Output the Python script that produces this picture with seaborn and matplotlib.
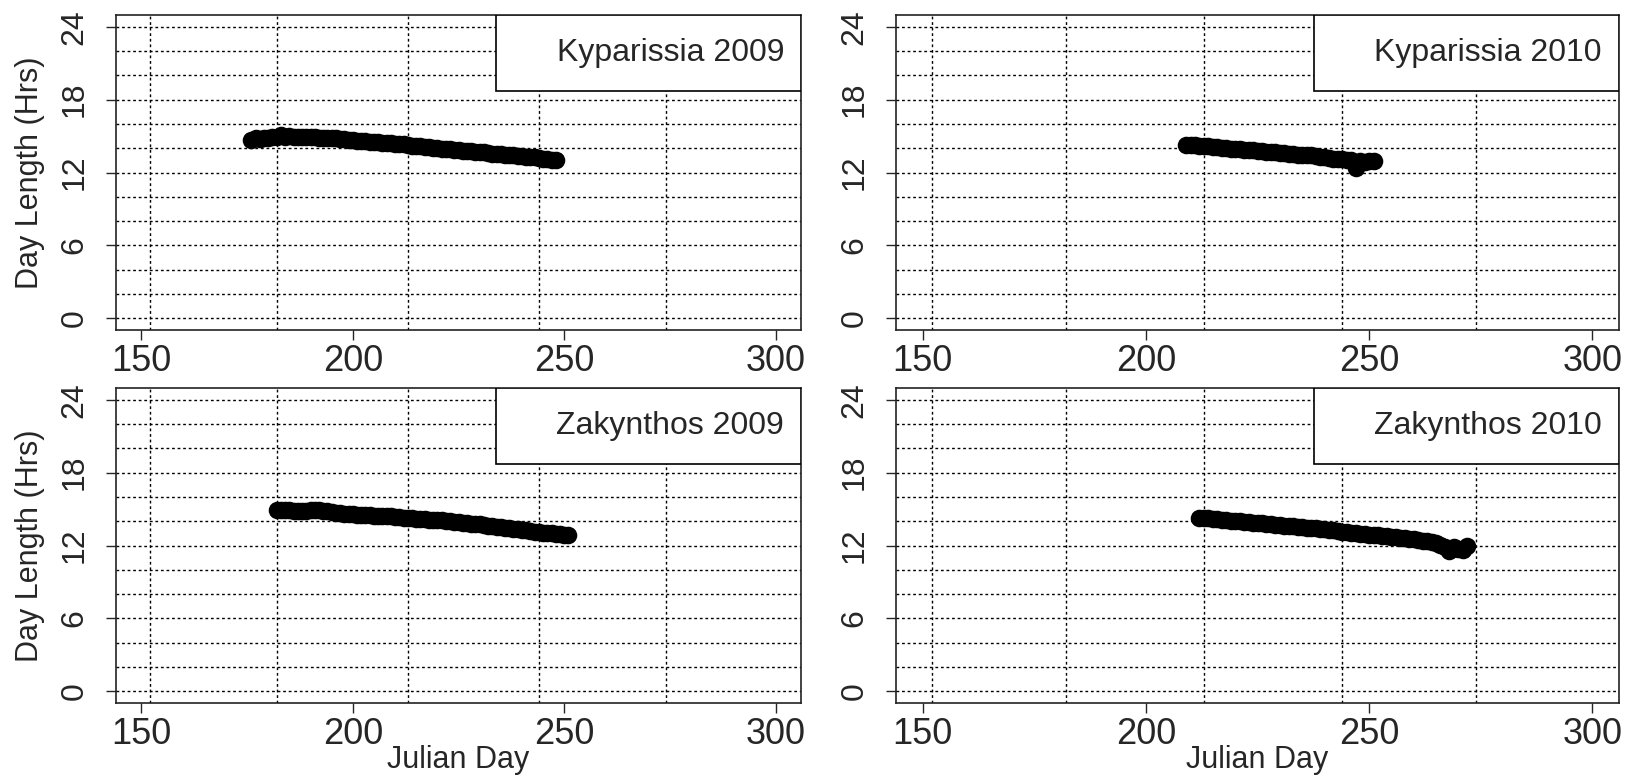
import pandas as pd
import matplotlib
matplotlib.use("Agg")
import matplotlib.pyplot as plt
import seaborn as sns
from matplotlib.patches import Rectangle

sns.set_style("ticks")
plt.rcParams['font.family'] = ['Liberation Sans', 'DejaVu Sans']

# Values (Julian day, day length in hours), one per day
kyp09_day = [176, 177, 178, 179, 180, 181, 182, 183, 184, 185, 186, 187, 188, 189,
             190, 191, 192, 193, 194, 195, 196, 197, 198, 199, 200, 201, 202, 203,
             204, 205, 206, 207, 208, 209, 210, 211, 212, 213, 214, 215, 216, 217,
             218, 219, 220, 221, 222, 223, 224, 225, 226, 227, 228, 229, 230, 231,
             232, 233, 234, 235, 236, 237, 238, 239, 240, 241, 242, 243, 244, 245,
             246, 247, 248]
kyp09_hrs = [14.7, 14.8, 14.75, 14.85, 14.8, 14.9, 14.95, 15.05, 14.95, 15.0, 14.95,
             14.9, 14.95, 14.9, 14.9, 14.92, 14.88, 14.85, 14.85, 14.82, 14.8, 14.75,
             14.75, 14.7, 14.68, 14.62, 14.6, 14.57, 14.52, 14.5, 14.5, 14.45, 14.45,
             14.4, 14.38, 14.35, 14.32, 14.3, 14.22, 14.2, 14.15, 14.12, 14.1, 14.05,
             14.0, 13.95, 13.95, 13.9, 13.88, 13.85, 13.8, 13.78, 13.75, 13.7, 13.65,
             13.65, 13.6, 13.55, 13.55, 13.5, 13.47, 13.45, 13.4, 13.38, 13.35, 13.3,
             13.28, 13.25, 13.2, 13.15, 13.1, 13.05, 13.0]

kyp10_day = [209, 210, 211, 212, 213, 214, 215, 216, 217, 218, 219, 220, 221, 222,
             223, 224, 225, 226, 227, 228, 229, 230, 231, 232, 233, 234, 235, 236,
             237, 238, 239, 240, 241, 242, 243, 244, 245, 246, 247, 247, 248, 249,
             250, 251]
kyp10_hrs = [14.25, 14.3, 14.25, 14.2, 14.15, 14.15, 14.1, 14.08, 14.05, 14.0, 13.95,
             13.95, 13.9, 13.88, 13.85, 13.82, 13.8, 13.75, 13.72, 13.7, 13.65, 13.62,
             13.58, 13.55, 13.52, 13.48, 13.45, 13.42, 13.4, 13.35, 13.3, 13.25, 13.2,
             13.15, 13.1, 13.08, 13.05, 13.0, 12.4, 12.75, 12.95, 12.9, 12.95, 12.95]

zak09_day = [182, 183, 184, 185, 186, 187, 188, 189, 190, 191, 192, 193, 194, 195,
             196, 197, 198, 199, 200, 201, 202, 203, 204, 205, 206, 207, 208, 209,
             210, 211, 212, 213, 214, 215, 216, 217, 218, 219, 220, 221, 222, 223,
             224, 225, 226, 227, 228, 229, 230, 231, 232, 233, 234, 235, 236, 237,
             238, 239, 240, 241, 242, 243, 244, 245, 246, 247, 248, 249, 250, 251]
zak09_hrs = [14.9, 14.95, 14.92, 14.9, 14.88, 14.85, 14.85, 14.88, 14.92, 14.9, 14.95,
             14.88, 14.8, 14.75, 14.7, 14.68, 14.62, 14.6, 14.58, 14.55, 14.5, 14.5,
             14.48, 14.45, 14.45, 14.42, 14.4, 14.4, 14.38, 14.35, 14.3, 14.28, 14.25,
             14.22, 14.2, 14.15, 14.12, 14.12, 14.1, 14.08, 14.05, 14.0, 13.95, 13.9,
             13.87, 13.83, 13.8, 13.76, 13.73, 13.68, 13.64, 13.6, 13.55, 13.5, 13.45,
             13.42, 13.37, 13.33, 13.29, 13.25, 13.2, 13.15, 13.1, 13.05, 13.02, 13.0,
             12.96, 12.93, 12.9, 12.9]

zak10_day = [212, 213, 214, 215, 216, 217, 218, 219, 220, 221, 222, 223, 224, 225,
             226, 227, 228, 229, 230, 231, 232, 233, 234, 235, 236, 237, 238, 239,
             240, 241, 242, 243, 244, 245, 246, 247, 248, 249, 250, 251, 252, 253,
             254, 255, 256, 257, 258, 259, 260, 261, 262, 263, 264, 265, 266, 267,
             268, 269, 270, 271, 272]
zak10_hrs = [14.3, 14.28, 14.25, 14.2, 14.15, 14.12, 14.1, 14.05, 14.02, 14.0, 13.95,
             13.92, 13.88, 13.85, 13.82, 13.78, 13.75, 13.72, 13.68, 13.64, 13.6, 13.57,
             13.53, 13.5, 13.47, 13.43, 13.4, 13.36, 13.32, 13.28, 13.24, 13.2, 13.15,
             13.1, 13.05, 13.0, 12.97, 12.93, 12.9, 12.87, 12.83, 12.8, 12.77, 12.73,
             12.7, 12.65, 12.6, 12.55, 12.5, 12.45, 12.4, 12.35, 12.3, 12.2, 12.05,
             11.85, 11.55, 11.9, 11.7, 11.65, 12.0]

panel_titles = ["Kyparissia 2009", "Kyparissia 2010", "Zakynthos 2009", "Zakynthos 2010"]
x_ticks = [150, 200, 250, 300]
y_ticks = [0, 6, 12, 18, 24]
month_starts = [152, 182, 213, 244, 274]
hour_grid = [0, 2, 4, 6, 8, 10, 12, 14, 16, 18, 20, 22, 24]

panels = [
    (kyp09_day, kyp09_hrs),
    (kyp10_day, kyp10_hrs),
    (zak09_day, zak09_hrs),
    (zak10_day, zak10_hrs),
]

W, H = 1638, 780
fig = plt.figure(figsize=(W / 100, H / 100), dpi=100)

# axes rectangles in pixels: left, top, width, height
rects = [(116, 15, 685, 315), (896, 15, 723, 315),
         (116, 388, 685, 315), (896, 388, 723, 315)]

for i, ((days, hrs), title) in enumerate(zip(panels, panel_titles)):
    l, t, w, h = rects[i]
    ax = fig.add_axes([l / W, 1 - (t + h) / H, w / W, h / H])

    for yv in hour_grid:
        ax.axhline(yv, color='black', lw=1, ls=(0, (2, 2)), zorder=1)
    for xv in month_starts:
        ax.axvline(xv, color='black', lw=1, ls=(0, (2, 2)), zorder=1)

    df = pd.DataFrame({'day': days, 'hrs': hrs})
    sns.scatterplot(data=df, x='day', y='hrs', ax=ax, color='black', s=160,
                    linewidth=0, zorder=3)

    ax.set_xlim(144, 306)
    ax.set_ylim(-0.96, 24.96)
    ax.set_xticks(x_ticks)
    ax.set_yticks(y_ticks)
    ax.tick_params(axis='x', labelsize=26, length=7, width=1, pad=3, direction='out')
    ax.tick_params(axis='y', labelsize=23, length=7, width=1, pad=12, direction='out')
    plt.setp(ax.get_yticklabels(), rotation=90, va='center')
    for s in ax.spines.values():
        s.set_linewidth(1.2)
        s.set_color('#222222')

    # legend-style label box in the top right corner
    bw, bh = 305 / w, 76 / h
    ax.add_patch(Rectangle((1 - bw, 1 - bh), bw, bh, transform=ax.transAxes,
                           facecolor='white', edgecolor='black', lw=1.2, zorder=4))
    ax.text(1 - 17 / w, 1 - bh / 2, title, transform=ax.transAxes, ha='right',
            va='center', fontsize=23, zorder=5)

    if i % 2 == 0:
        ax.set_ylabel('Day Length (Hrs)', fontsize=22, va='center')
        ax.yaxis.set_label_coords(-86 / w, 0.5)
    else:
        ax.set_ylabel('')
    if i >= 2:
        ax.set_xlabel('Julian Day', fontsize=22, va='baseline')
        ax.xaxis.set_label_coords(0.5, -65 / h)
    else:
        ax.set_xlabel('')

plt.savefig('out.png', dpi=100)
